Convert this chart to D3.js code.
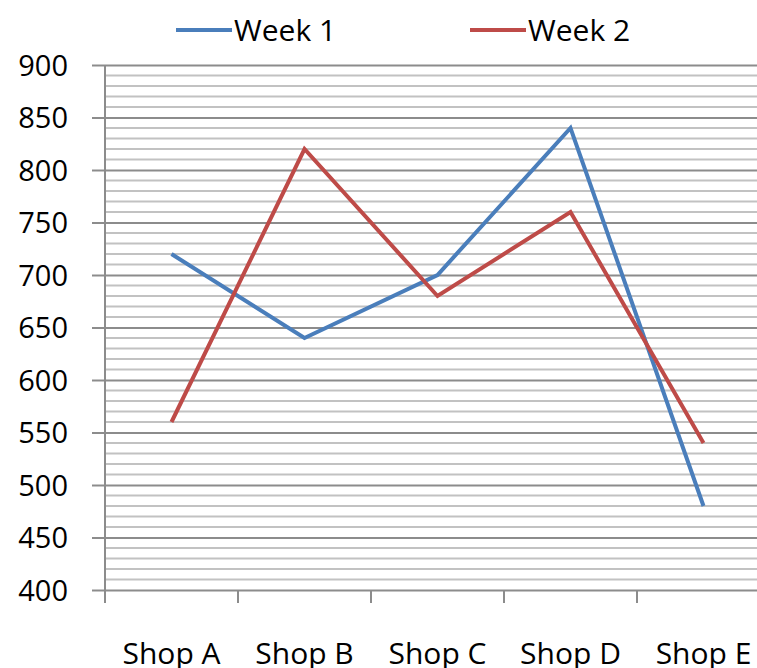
<!DOCTYPE html>
<html lang="en">
<head>
<meta charset="UTF-8">
<title>weekly sales</title>
<script src="https://cdn.jsdelivr.net/npm/d3@7"></script>
<style>
    body { margin: 0; background: #ffffff; }
    svg text { font-family: "Open Sans", "Noto Sans", sans-serif; fill: #000; }
</style>
</head>
<body>
<svg id="chart" width="757" height="668"></svg>
<script>
// data
let shops = ["Shop A", "Shop B", "Shop C", "Shop D", "Shop E"];
let week1 = [720, 640, 700, 840, 480];
let week2 = [560, 820, 680, 760, 540];
let seriesNames = ["Week 1", "Week 2"];
let seriesColors = ["#4a7ebb", "#be4b48"];
let yTicks = [400, 450, 500, 550, 600, 650, 700, 750, 800, 850, 900];

let svg = d3.select("#chart");

// plot box (runs past the right edge, as in the reference)
let plotLeft = 105, plotRight = 770, plotTop = 65, plotBottom = 590;

let x = d3.scaleBand().domain(shops).range([plotLeft, plotRight]);
let y = d3.scaleLinear().domain([400, 900]).range([plotBottom, plotTop]);

// minor grid every 10
let minor = d3.range(400, 901, 10).filter(v => v % 50 !== 0);
svg.append("g").selectAll("line").data(minor).join("line")
    .attr("x1", plotLeft).attr("x2", plotRight)
    .attr("y1", d => y(d)).attr("y2", d => y(d))
    .attr("stroke", "#c2c2c2").attr("stroke-width", 2);

// y axis with major grid
let yAxis = svg.append("g")
    .attr("transform", `translate(${plotLeft},0)`)
    .call(d3.axisLeft(y).tickValues(yTicks).tickSize(13).tickPadding(24).tickFormat(d3.format("d")));
yAxis.select(".domain").remove();
yAxis.selectAll(".tick line").clone()
    .attr("x1", 0).attr("x2", plotRight - plotLeft);
yAxis.selectAll(".tick line").attr("stroke", "#8c8c8c").attr("stroke-width", 2);
yAxis.selectAll(".tick text").attr("font-size", 29).attr("dy", "0.36em");

svg.append("line")
    .attr("x1", plotLeft).attr("x2", plotLeft).attr("y1", plotTop).attr("y2", plotBottom + 13)
    .attr("stroke", "#8c8c8c").attr("stroke-width", 2);

// x axis ticks at band edges
let edges = shops.map(s => x(s)).concat([plotRight]);
svg.append("g").selectAll("line").data(edges).join("line")
    .attr("x1", d => d).attr("x2", d => d)
    .attr("y1", plotBottom).attr("y2", plotBottom + 13)
    .attr("stroke", "#8c8c8c").attr("stroke-width", 2);

svg.append("g").selectAll("text").data(shops).join("text")
    .attr("x", d => x(d) + x.bandwidth() / 2)
    .attr("y", 664)
    .attr("text-anchor", "middle")
    .attr("font-size", 30)
    .text(d => d);

// lines
let line = d3.line()
    .x((d, i) => x(shops[i]) + x.bandwidth() / 2)
    .y(d => y(d));

[week1, week2].forEach((vals, k) => {
    svg.append("path")
        .datum(vals)
        .attr("d", line)
        .attr("fill", "none")
        .attr("stroke", seriesColors[k])
        .attr("stroke-width", 4)
        .attr("stroke-linejoin", "miter");
});

// legend
let legendX = [176, 470];
let leg = svg.append("g").selectAll("g").data(seriesNames).join("g")
    .attr("transform", (d, i) => `translate(${legendX[i]},30)`);
leg.append("line")
    .attr("x1", 0).attr("x2", 56)
    .attr("stroke", (d, i) => seriesColors[i]).attr("stroke-width", 4);
leg.append("text")
    .attr("x", 58).attr("dy", "0.36em")
    .attr("font-size", 30)
    .text(d => d);
</script>
</body>
</html>
